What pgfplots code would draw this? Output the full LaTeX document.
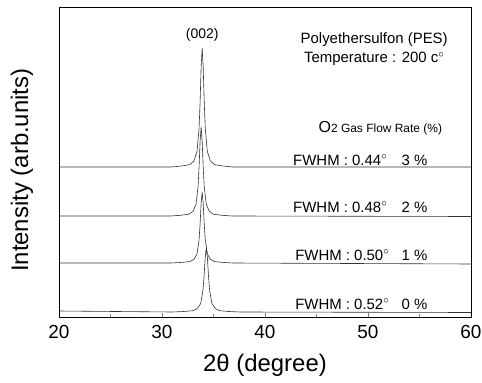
\documentclass[border=0pt]{standalone}
\usepackage{pgfplots}
\pgfplotsset{compat=1.18}
\usepackage{fontspec}
\setmainfont{Liberation Sans}
\newcommand{\dg}{\ensuremath{^{\circ}}}
\begin{document}
\begin{tikzpicture}
\begin{axis}[
  at={(0,0)}, anchor=south west,
  scale only axis, width=412bp, height=309bp,
  xmin=20, xmax=60, ymin=0, ymax=309,
  xtick={20,30,40,50,60}, minor x tick num=1,
  ytick=\empty,
  xtick pos=bottom, tick align=inside,
  major tick length=4bp, minor tick length=3bp,
  axis line style={line width=1pt},
  /pgf/number format/assume math mode=true,
  xticklabel style={font=\fontsize{19}{20}\selectfont, yshift=-5bp},
  xlabel={2θ (degree)},
  ylabel={Intensity (arb.units)},
  every axis x label/.style={at={(rel axis cs:0.5,0)}, anchor=center, yshift=-48bp, font=\fontsize{24}{26}\selectfont},
  every axis y label/.style={at={(rel axis cs:0,0.475)}, anchor=center, rotate=90, yshift=37bp, font=\fontsize{24}{26}\selectfont},
  clip=false,
]
\addplot[black!80, line width=0.6pt] coordinates {(20,150) (30.9,150) (31.9,151) (32.7,152.4) (33.1,156) (33.4,165.5) (33.6,189) (33.7,215) (33.8,250) (33.9,269) (34.0,250) (34.1,215) (34.2,189) (34.4,165.5) (34.7,156) (35.1,152.4) (35.9,151) (36.9,150) (60,150)};
\addplot[black!80, line width=0.6pt] coordinates {(20,101) (30.8,101) (31.8,101.7) (32.6,102.8) (33.0,105.5) (33.3,112.6) (33.5,130.4) (33.6,150) (33.7,175.8) (33.8,190) (33.9,175.8) (34.0,150) (34.1,130.4) (34.3,112.6) (34.6,105.5) (35.0,102.8) (35.8,101.7) (36.8,101) (60,100.5)};
\addplot[black!80, line width=0.6pt] coordinates {(20,54) (30.9,54) (31.9,54.6) (32.7,55.4) (33.1,57.6) (33.4,63.2) (33.6,77.4) (33.7,93) (33.8,113.6) (33.9,125) (34.0,113.6) (34.1,93) (34.2,77.4) (34.4,63.2) (34.7,57.6) (35.1,55.4) (35.9,54.6) (36.9,54) (60,53)};
\addplot[black!80, line width=0.6pt] coordinates {(20,6) (31.0,5) (32.1,5.5) (33.0,6.3) (33.4,8.2) (33.75,13.3) (33.97,26.1) (34.08,40.2) (34.19,58.8) (34.3,69) (34.41,58.8) (34.52,40.2) (34.63,26.1) (34.85,13.3) (35.2,8.2) (35.6,6.3) (36.5,5.5) (37.6,5) (60,4.5)};
\node[font=\fontsize{14}{15}\selectfont] at (axis cs:33.9,282) {(002)};
\node[font=\fontsize{15}{16}\selectfont] at (axis cs:50.6,277) {Polyethersulfon (PES)};
\node[font=\fontsize{15}{16}\selectfont] at (axis cs:50.6,258) {Temperature : 200 c\dg};
\node[font=\fontsize{12}{13}\selectfont] at (axis cs:51.2,189) {{\fontsize{16}{17}\selectfont O}2 Gas Flow Rate (\%)};
\node[anchor=west, font=\fontsize{15}{16}\selectfont] at (axis cs:42.4,157) {FWHM : 0.44\dg};
\node[anchor=west, font=\fontsize{15}{16}\selectfont] at (axis cs:42.4,110) {FWHM : 0.48\dg};
\node[anchor=west, font=\fontsize{15}{16}\selectfont] at (axis cs:42.6,62) {FWHM : 0.50\dg};
\node[anchor=west, font=\fontsize{15}{16}\selectfont] at (axis cs:42.6,13) {FWHM : 0.52\dg};
\node[anchor=east, font=\fontsize{15}{16}\selectfont] at (axis cs:56.1,157) {3 \%};
\node[anchor=east, font=\fontsize{15}{16}\selectfont] at (axis cs:56.1,110) {2 \%};
\node[anchor=east, font=\fontsize{15}{16}\selectfont] at (axis cs:56.1,62) {1 \%};
\node[anchor=east, font=\fontsize{15}{16}\selectfont] at (axis cs:56.1,13) {0 \%};
\end{axis}
\pgfresetboundingbox
\path[use as bounding box] (-59bp,-66bp) rectangle (423bp,317bp);
\end{tikzpicture}
\end{document}
